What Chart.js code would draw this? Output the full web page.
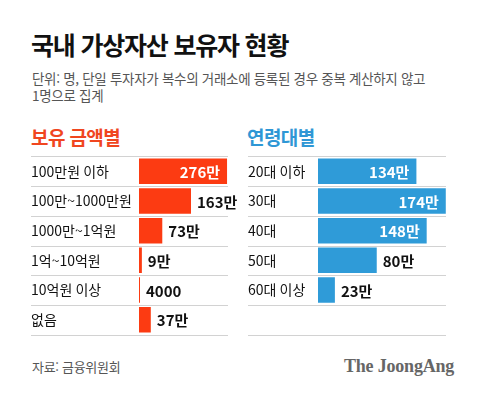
<!DOCTYPE html>
<html lang="ko">
<head>
<meta charset="utf-8">
<script src="https://cdn.jsdelivr.net/npm/chart.js@4"></script>
<style>
  html, body { margin:0; padding:0; background:#fff; }
  body { width:480px; height:395px; position:relative; overflow:hidden; font-family:"Noto Sans CJK KR","Noto Sans",sans-serif; }
  .abs { position:absolute; white-space:nowrap; }
  #title { left:31px; top:27px; font-size:25px; font-weight:700; color:#111; letter-spacing:-1.2px; line-height:34px; }
  #sub { left:32px; top:70px; font-size:13.5px; color:#555; line-height:17px; letter-spacing:-0.3px; }
  .hdr { font-size:19px; font-weight:700; letter-spacing:-0.6px; line-height:24px; top:125px; }
  #hdrL { left:31px; color:#f0461f; }
  #hdrR { left:247px; color:#2f97d5; }
  #src { left:32px; top:358px; font-size:13px; color:#555; line-height:18px; letter-spacing:-0.3px; }
  #logo { left:344px; top:354px; font-family:"Liberation Serif","DejaVu Serif",serif; font-weight:700; font-size:18px; color:#666; line-height:24px; letter-spacing:-0.2px; }
  .wrap { position:absolute; }
</style>
</head>
<body>
<div id="title" class="abs">국내 가상자산 보유자 현황</div>
<div id="sub" class="abs">단위: 명, 단일 투자자가 복수의 거래소에 등록된 경우 중복 계산하지 않고<br>1명으로 집계</div>
<div id="hdrL" class="abs hdr">보유 금액별</div>
<div id="hdrR" class="abs hdr">연령대별</div>
<div class="wrap" style="left:31px;top:148px;width:217px;height:195px;"><canvas id="cL"></canvas></div>
<div class="wrap" style="left:248px;top:148px;width:218px;height:195px;"><canvas id="cR"></canvas></div>
<div id="src" class="abs">자료: 금융위원회</div>
<div id="logo" class="abs">The JoongAng</div>
<script>
// ---- data (values in 만명) ----
const amountCategories = ['100만원 이하', '100만~1000만원', '1000만~1억원', '1억~10억원', '10억원 이상', '없음'];
const amountValues = [276, 163, 73, 9, 0.4, 37];
const amountLabels = ['276만', '163만', '73만', '9만', '4000', '37만'];

const ageCategories = ['20대 이하', '30대', '40대', '50대', '60대 이상', ''];
const ageValues = [134, 174, 148, 80, 23, null];
const ageLabels = ['134만', '174만', '148만', '80만', '23만', ''];

const FONT = '"Noto Sans CJK KR", "Noto Sans", sans-serif';

const rowLines = {
  id: 'rowLines',
  beforeDatasetsDraw(chart) {
    const y = chart.scales.y, ctx = chart.ctx;
    const n = y.ticks.length;
    const step = (y.bottom - y.top) / n;
    ctx.save();
    ctx.strokeStyle = '#d2d2d2';
    ctx.lineWidth = 1;
    for (let k = 0; k <= n; k++) {
      const py = Math.round(y.top + k * step) + 0.5;
      ctx.beginPath();
      ctx.moveTo(0, py);
      ctx.lineTo(chart.chartArea.right, py);
      ctx.stroke();
    }
    ctx.restore();
  }
};

const valueLabels = {
  id: 'valueLabels',
  afterDatasetsDraw(chart, args, opts) {
    const ctx = chart.ctx;
    const meta = chart.getDatasetMeta(0);
    ctx.save();
    ctx.font = 'bold 15px ' + FONT;
    ctx.textBaseline = 'middle';
    meta.data.forEach((bar, i) => {
      const txt = opts.labels[i];
      if (!txt) return;
      const w = bar.x - bar.base;
      if (w > 70) {
        ctx.fillStyle = '#fff';
        ctx.textAlign = 'right';
        ctx.fillText(txt, bar.x - 7, bar.y + 1);
      } else {
        ctx.fillStyle = '#111';
        ctx.textAlign = 'left';
        ctx.fillText(txt, bar.x + 6, bar.y + 1);
      }
    });
    ctx.restore();
  }
};

function makeChart(id, cats, vals, labels, color, axisW, maxV) {
  return new Chart(document.getElementById(id), {
    type: 'bar',
    data: {
      labels: cats,
      datasets: [{
        data: vals,
        backgroundColor: color,
        borderWidth: 0,
        minBarLength: 1,
        categoryPercentage: 1,
        barPercentage: 0.86
      }]
    },
    plugins: [rowLines, valueLabels],
    options: {
      indexAxis: 'y',
      responsive: true,
      maintainAspectRatio: false,
      animation: false,
      layout: { padding: { top: 4, bottom: 4, left: 0, right: 20 } },
      plugins: {
        legend: { display: false },
        tooltip: { enabled: false },
        valueLabels: { labels: labels }
      },
      scales: {
        x: { display: false, min: 0, max: maxV },
        y: {
          grid: { display: false },
          border: { display: false },
          ticks: {
            crossAlign: 'far',
            padding: 0,
            color: '#111',
            font: { family: FONT, size: 14 }
          },
          afterFit(axis) { axis.width = axisW; }
        }
      }
    }
  });
}

makeChart('cL', amountCategories, amountValues, amountLabels, '#fc3b12', 108, 279);
makeChart('cR', ageCategories, ageValues, ageLabels, '#2f9bd8', 70, 174.3);
</script>
</body>
</html>
